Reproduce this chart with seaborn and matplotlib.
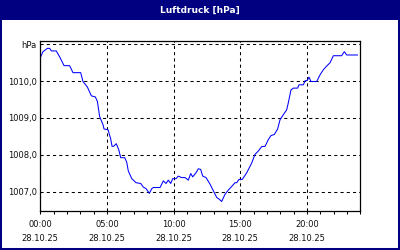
import matplotlib
matplotlib.use("Agg")
import matplotlib.pyplot as plt
from matplotlib.patches import Rectangle
from matplotlib.ticker import MultipleLocator, FixedLocator
import seaborn as sns
import pandas as pd

# data (hours since 00:00 of 28.10.25, pressure in hPa)
hours = [0.03, 0.2, 0.53, 0.7, 0.83, 1.2, 1.45, 1.78, 2.2, 2.45, 3.03, 3.2, 3.53, 3.83,
         4.13, 4.28, 4.45, 4.7, 4.78, 5.08, 5.28, 5.38, 5.5, 5.7, 5.88, 6.03, 6.33, 6.48,
         6.6, 6.86, 7.18, 7.53, 7.73, 7.93, 8.18, 8.36, 8.48, 8.98, 9.23, 9.43, 9.6, 9.78,
         9.93, 10.18, 10.35, 10.6, 10.86, 11.1, 11.28, 11.43, 11.68, 11.85, 12.03, 12.18,
         12.43, 12.73, 12.98, 13.23, 13.43, 13.6, 13.86, 14.1, 14.36, 14.6, 14.73, 14.9,
         15.15, 15.48, 15.86, 16.1, 16.35, 16.6, 16.86, 17.1, 17.3, 17.55, 17.8, 17.98,
         18.23, 18.48, 18.6, 18.8, 18.98, 19.3, 19.4, 19.73, 19.86, 20.03, 20.15, 20.3,
         20.73, 20.98, 21.23, 21.48, 21.73, 21.98, 22.6, 22.8, 22.98, 23.8]
pressure = [1010.66, 1010.80, 1010.89, 1010.89, 1010.82, 1010.82, 1010.66, 1010.42, 1010.42,
            1010.23, 1010.23, 1009.99, 1009.84, 1009.60, 1009.57, 1009.45, 1009.04, 1008.82,
            1008.70, 1008.68, 1008.43, 1008.23, 1008.23, 1008.30, 1008.14, 1007.92, 1007.92,
            1007.80, 1007.56, 1007.35, 1007.24, 1007.22, 1007.12, 1007.08, 1006.95, 1007.08,
            1007.11, 1007.11, 1007.29, 1007.22, 1007.31, 1007.22, 1007.35, 1007.35, 1007.42,
            1007.38, 1007.38, 1007.31, 1007.49, 1007.40, 1007.51, 1007.62, 1007.60, 1007.42,
            1007.38, 1007.20, 1007.02, 1006.84, 1006.79, 1006.73, 1006.93, 1007.04, 1007.14,
            1007.24, 1007.24, 1007.33, 1007.33, 1007.51, 1007.78, 1008.01, 1008.10, 1008.22,
            1008.23, 1008.41, 1008.52, 1008.55, 1008.70, 1008.95, 1009.09, 1009.22, 1009.41,
            1009.76, 1009.81, 1009.81, 1009.90, 1009.90, 1010.01, 1010.02, 1010.11, 1009.99,
            1009.99, 1010.17, 1010.31, 1010.41, 1010.50, 1010.69, 1010.69, 1010.80, 1010.71,
            1010.71]
x_ticks = [0, 5, 10, 15, 20]
x_labels = ["00:00\n28.10.25", "05:00\n28.10.25", "10:00\n28.10.25",
            "15:00\n28.10.25", "20:00\n28.10.25"]
y_ticks = [1007, 1008, 1009, 1010, 1011]
y_labels = ["1007,0", "1008,0", "1009,0", "1010,0", "hPa"]
title = "Luftdruck [hPa]"

sns.set_style("white")
plt.rcParams["font.family"] = ["DejaVu Sans"]

W, H = 400, 250
fig = plt.figure(figsize=(4, 2.5), dpi=100, facecolor="white")
navy = "#000080"

# title bar and frame
fig.patches.append(Rectangle((0, 230 / H), 1, 20 / H, transform=fig.transFigure,
                             facecolor=navy, edgecolor="none", zorder=0))
fig.patches.append(Rectangle((0, 0), 1, 1, transform=fig.transFigure,
                             facecolor="none", edgecolor=navy, linewidth=2.9, zorder=5))
fig.text(0.5, 240 / H, title, color="white", fontsize=6.5, fontweight="bold",
         ha="center", va="center")

ax = fig.add_axes([40.3 / W, 39.3 / H, 320 / W, 169.7 / H])
df = pd.DataFrame({"h": hours, "p": pressure})
sns.lineplot(data=df, x="h", y="p", ax=ax, color="#0000ff", linewidth=0.75, estimator=None)

ax.set_xlim(0, 24)
ax.set_ylim(1006.48, 1011.09)
ax.xaxis.set_major_locator(FixedLocator(x_ticks))
ax.xaxis.set_minor_locator(MultipleLocator(1))
ax.set_xticklabels(x_labels)
ax.set_yticks(y_ticks)
ax.set_yticklabels(y_labels)
ax.set_xlabel("")
ax.set_ylabel("")

for lab in ax.get_xticklabels():
    lab.set_linespacing(1.75)
ax.tick_params(axis="x", which="both", direction="out", length=2.5, width=0.75,
               color="black", labelsize=6, pad=4, bottom=True)
ax.tick_params(axis="y", length=0, labelsize=6, pad=2.5)
for lab in ax.get_xticklabels() + ax.get_yticklabels():
    lab.set_color("#111111")

ax.grid(True, which="major", color="black", linestyle=(0, (3, 3)), linewidth=0.75)
for s in ax.spines.values():
    s.set_visible(True)
    s.set_color("black")
    s.set_linewidth(0.9)

fig.savefig("out.png", dpi=100, facecolor="white")
